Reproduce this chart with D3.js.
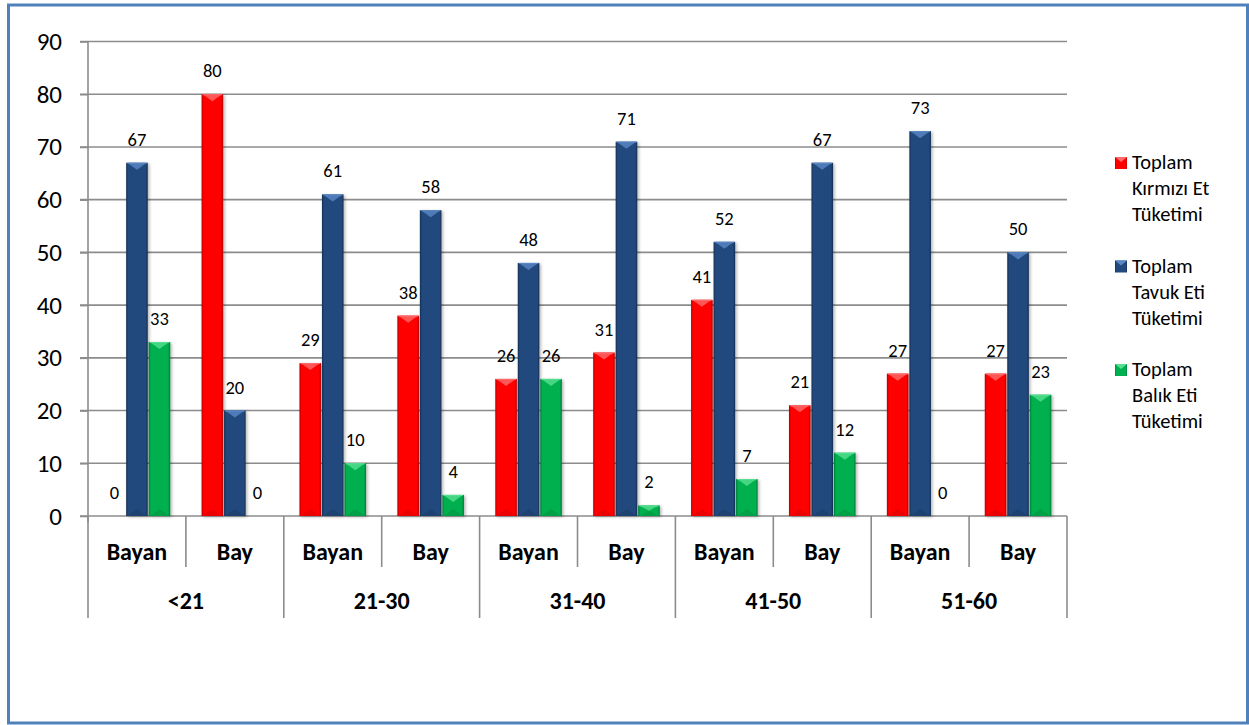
<!DOCTYPE html>
<html>
<head>
<meta charset="utf-8">
<script src="https://cdn.jsdelivr.net/npm/d3@7/dist/d3.min.js"></script>
<style>
  html, body { margin: 0; padding: 0; background: #fff; }
  svg { display: block; font-family: Carlito, Lato, "Open Sans", sans-serif; }
</style>
</head>
<body>
<svg id="chart" width="1249" height="725"></svg>
<script>
// Age groups and gender sub-categories
const ageGroups = ["<21", "21-30", "31-40", "41-50", "51-60"];
const genders = ["Bayan", "Bay"];

// Series names (legend lines)
const seriesNames = [
  ["Toplam", "Kırmızı Et", "Tüketimi"],
  ["Toplam", "Tavuk Eti", "Tüketimi"],
  ["Toplam", "Balık Eti", "Tüketimi"]
];

// Values per slot, ordered <21 Bayan, <21 Bay, 21-30 Bayan, ...
const kirmiziEt = [0, 80, 29, 38, 26, 31, 41, 21, 27, 27];
const tavukEti  = [67, 20, 61, 58, 48, 71, 52, 67, 73, 50];
const balikEti  = [33, 0, 10, 4, 26, 2, 7, 12, 0, 23];

const yTicks = [0, 10, 20, 30, 40, 50, 60, 70, 80, 90];

const palette = [
  { base: "#FF0000", light: "#FF6A6A", dark: "#B80000" },
  { base: "#234A7E", light: "#5A88C6", dark: "#142E52" },
  { base: "#00B050", light: "#55E090", dark: "#007A36" }
];

const svg = d3.select("#chart");

// Frame
svg.append("rect")
  .attr("x", 8.5).attr("y", 5).attr("width", 1239).attr("height", 718)
  .attr("fill", "#fff").attr("stroke", "#4F81BD").attr("stroke-width", 3);

const plot = { left: 88, right: 1067, top: 41.5, bottom: 516 };

const slots = [];
ageGroups.forEach(a => genders.forEach(g => slots.push(a + "|" + g)));
const seriesData = [kirmiziEt, tavukEti, balikEti];

const y = d3.scaleLinear().domain([0, 90]).range([plot.bottom, plot.top]);
const x0 = d3.scaleBand().domain(slots).range([plot.left, plot.right]).padding(0);
const groupW = x0.bandwidth() * 0.68;
const x1 = d3.scaleBand().domain([0, 1, 2]).range([0, groupW]).paddingInner(0.04);

// Defs: gradients and shadow
const defs = svg.append("defs");
palette.forEach((p, i) => {
  const g = defs.append("linearGradient").attr("id", "grad" + i)
    .attr("x1", "0").attr("x2", "1").attr("y1", "0").attr("y2", "0");
  g.append("stop").attr("offset", "0%").attr("stop-color", p.dark);
  g.append("stop").attr("offset", "10%").attr("stop-color", p.base);
  g.append("stop").attr("offset", "90%").attr("stop-color", p.base);
  g.append("stop").attr("offset", "100%").attr("stop-color", p.dark);
});
const f = defs.append("filter").attr("id", "shadow")
  .attr("x", "-30%").attr("y", "-10%").attr("width", "170%").attr("height", "130%");
f.append("feDropShadow").attr("dx", 1.5).attr("dy", 1).attr("stdDeviation", 1.5)
  .attr("flood-color", "#000").attr("flood-opacity", 0.3);

// Gridlines
const grid = svg.append("g");
grid.selectAll("line").data(yTicks).join("line")
  .attr("x1", plot.left - 8).attr("x2", plot.right)
  .attr("y1", d => y(d)).attr("y2", d => y(d))
  .attr("stroke", "#8C8C8C").attr("stroke-width", 1.6);

// Y axis
const yAxis = svg.append("g").attr("transform", `translate(${plot.left},0)`)
  .call(d3.axisLeft(y).tickValues(yTicks).tickSize(8).tickPadding(18));
yAxis.select(".domain").attr("stroke", "#8C8C8C").attr("stroke-width", 1.6)
  .attr("d", `M0,${plot.top}V${plot.bottom + 6}`);
yAxis.selectAll(".tick line").attr("stroke", "#8C8C8C").attr("stroke-width", 1.6);
yAxis.selectAll(".tick text").attr("font-size", 25).attr("fill", "#000")
  .attr("font-family", "Carlito, Lato, sans-serif");

// Category separators
const sepG = svg.append("g").attr("stroke", "#8C8C8C").attr("stroke-width", 1.6);
slots.forEach((s, i) => {
  const xs = x0(s);
  const isGroupEdge = i % 2 === 0;
  sepG.append("line").attr("x1", xs).attr("x2", xs)
    .attr("y1", plot.bottom).attr("y2", isGroupEdge ? 618 : 567);
});
sepG.append("line").attr("x1", plot.right).attr("x2", plot.right)
  .attr("y1", plot.bottom).attr("y2", 618);

// Bars with a bevelled look
const barsG = svg.append("g");
function bevelBar(g, xb, w, v, si) {
  const p = palette[si];
  const top = y(v), bot = y(0), h = bot - top;
  if (h <= 0) return;
  const bg = g.append("g");
  bg.append("rect").attr("x", xb).attr("y", top).attr("width", w).attr("height", h)
    .attr("fill", `url(#grad${si})`).attr("filter", "url(#shadow)");
  const ch = Math.min(7, h / 2);
  bg.append("polygon")
    .attr("points", [[xb + 1, top], [xb + w - 1, top], [xb + w / 2, top + ch]].map(d => d.join(",")).join(" "))
    .attr("fill", p.light).attr("opacity", 0.8);
  bg.append("rect").attr("x", xb + 1).attr("y", top).attr("width", w - 2).attr("height", 1)
    .attr("fill", p.light);
  bg.append("polygon")
    .attr("points", [[xb + 1, bot], [xb + w - 1, bot], [xb + w / 2, bot - ch]].map(d => d.join(",")).join(" "))
    .attr("fill", p.dark).attr("opacity", 0.3);
}

slots.forEach((s, i) => {
  const gx = x0(s) + (x0.bandwidth() - groupW) / 2;
  seriesData.forEach((arr, si) => {
    const v = arr[i];
    const xb = gx + x1(si);
    const w = x1.bandwidth();
    bevelBar(barsG, xb, w, v, si);
    barsG.append("text")
      .attr("x", xb + w / 2).attr("y", y(v) - 17)
      .attr("text-anchor", "middle").attr("font-size", 18.5).attr("fill", "#000")
      .text(v);
  });
});

// Category labels
const catG = svg.append("g").attr("font-weight", "bold").attr("fill", "#000")
  .attr("text-anchor", "middle");
slots.forEach(s => {
  catG.append("text").attr("x", x0(s) + x0.bandwidth() / 2).attr("y", 560)
    .attr("font-size", 24).text(s.split("|")[1]);
});
ageGroups.forEach(a => {
  const xs = x0(a + "|Bayan");
  catG.append("text").attr("x", xs + x0.bandwidth()).attr("y", 609)
    .attr("font-size", 24).text(a);
});

// Legend
const legend = svg.append("g");
seriesNames.forEach((lines, i) => {
  const ly = 169 + i * 103.5;
  const p = palette[i];
  const mx = 1115, my = ly - 12, ms = 12;
  legend.append("rect").attr("x", mx).attr("y", my).attr("width", ms).attr("height", ms)
    .attr("fill", `url(#grad${i})`);
  legend.append("polygon")
    .attr("points", [[mx, my], [mx + ms, my], [mx + ms / 2, my + 5]].map(d => d.join(",")).join(" "))
    .attr("fill", p.light);
  lines.forEach((t, k) => {
    legend.append("text").attr("x", 1132).attr("y", ly + k * 26)
      .attr("font-size", 20.5).attr("fill", "#000").text(t);
  });
});
</script>
</body>
</html>
